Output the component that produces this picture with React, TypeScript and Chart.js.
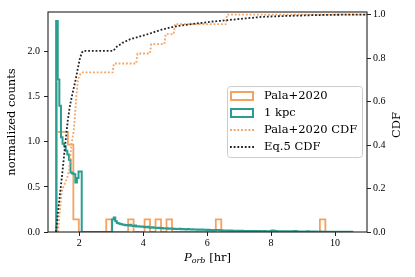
import React, { useEffect, useRef } from 'react';
import { Chart, registerables } from 'chart.js';

Chart.register(...registerables);

// ---------- data ----------
// Pala+2020 histogram (density), uniform bins
const palaBinStart = 1.299;
const palaBinWidth = 0.1714;
const palaHeights = [
  1.67, 1.11, 1.11, 0.97, 0.14, // 1.30 - 2.16
  0, 0, 0, 0, 0,                // 2.16 - 3.01
  0.14, 0, 0, 0,                // 3.01 - 3.70
  0.14, 0, 0,                   // 3.70 - 4.21
  0.14, 0,                      // 4.21 - 4.56
  0.14, 0,                      // 4.56 - 4.90
  0.14, 0, 0, 0, 0, 0, 0, 0, 0, // 4.90 - 6.44
  0.14, 0, 0, 0, 0, 0, 0, 0, 0, 0, 0, 0, 0, 0, 0, 0, 0, 0, 0, // 6.44 - 9.70
  0.14,                         // 9.70 - 9.87
];

// 1 kpc simulated histogram (density), uniform bins
const kpcBinStart = 1.275;
const kpcBinWidth = 0.05;
const kpcHeights = [
  2.34, 2.34, 1.69, 1.40, 1.05, 0.98, 0.95, 0.90, 0.86, 0.80, 0.66, 0.65, 0.64, 0.55, 0.60, 0.67, 0.67,
  0, 0, 0, 0, 0, 0, 0, 0, 0, 0, 0, 0, 0, 0, 0, 0, 0, 0, 0,
  0.14, 0.16, 0.12, 0.10, 0.095, 0.088, 0.082, 0.080, 0.076, 0.078,
  0.072, 0.080, 0.070, 0.066, 0.072, 0.062, 0.064, 0.060, 0.058, 0.062,
  0.055, 0.052, 0.058, 0.050, 0.048, 0.052, 0.046, 0.048, 0.044, 0.046,
  0.042, 0.044, 0.040, 0.038, 0.042, 0.036, 0.038, 0.040, 0.034, 0.036,
  0.034, 0.032, 0.035, 0.030, 0.033, 0.031, 0.029, 0.032, 0.030, 0.028,
  0.030, 0.027, 0.029, 0.026, 0.028, 0.025, 0.027, 0.024, 0.026, 0.023,
  0.024, 0.022, 0.023, 0.020, 0.022, 0.019, 0.021, 0.018, 0.020, 0.017,
  0.018, 0.016, 0.017, 0.015, 0.016, 0.014, 0.015, 0.013, 0.014, 0.013,
  0.012, 0.013, 0.011, 0.012, 0.010, 0.011, 0.010, 0.011, 0.009, 0.010,
  0.010, 0.009, 0.010, 0.008, 0.009, 0.010, 0.008, 0.009, 0.008, 0.012,
  0.016, 0.014, 0.010, 0.008, 0.009, 0.007, 0.008, 0.007, 0.008, 0.006,
  0.007, 0.006, 0.007, 0.006, 0.010, 0.007, 0.006, 0.005, 0.006, 0.005,
  0.006, 0.005, 0.008, 0.005, 0.004, 0.005, 0.004, 0.005, 0.004, 0.004,
  0.005, 0.004, 0.004, 0.003, 0.004, 0.003, 0.004, 0.003, 0.003, 0.003,
  0.003, 0.002, 0.003, 0.002, 0.002, 0.003, 0.002, 0.002, 0.002, 0.002,
];

// Pala+2020 CDF
const palaCdfPeriod = [1.33, 1.40, 1.45, 1.50, 1.55, 1.62, 1.68, 1.72, 1.76, 1.83, 1.87, 1.91, 1.95, 2.00, 2.07,
  3.04, 3.08, 3.78, 3.82, 4.21, 4.25, 4.66, 4.70, 4.95, 4.99, 6.58, 6.62, 11.0];
const palaCdfValue = [0, 0.11, 0.185, 0.208, 0.224, 0.25, 0.285, 0.35, 0.41, 0.47, 0.55, 0.63, 0.69, 0.72, 0.734,
  0.734, 0.775, 0.775, 0.821, 0.821, 0.864, 0.864, 0.91, 0.91, 0.956, 0.956, 1.0, 1.0];

// Eq.5 CDF
const eq5Period = [1.27, 1.36, 1.46, 1.55, 1.64, 1.71, 1.79, 1.87, 1.95, 2.02, 2.08, 2.12, 3.06, 3.17, 3.35, 3.58,
  3.90, 4.21, 4.55, 4.94, 5.30, 5.67, 6.10, 6.60, 7.15, 7.75, 8.50, 9.20, 9.83, 10.5, 11.0];
const eq5Cdf = [0, 0.13, 0.26, 0.39, 0.515, 0.584, 0.64, 0.69, 0.75, 0.80, 0.825, 0.833, 0.833, 0.852, 0.87, 0.886,
  0.90, 0.913, 0.93, 0.944, 0.952, 0.959, 0.967, 0.974, 0.982, 0.99, 0.994, 0.997, 0.999, 1.0, 1.0];

const xTicks = [2, 4, 6, 8, 10];
const countTicks = [0, 0.5, 1.0, 1.5, 2.0];
const cdfTicks = [0, 0.2, 0.4, 0.6, 0.8, 1.0];

const labels = ['Pala+2020', '1 kpc', 'Pala+2020 CDF', 'Eq.5 CDF'];

// ---------- styles ----------
const ORANGE = '#f4a261';
const TEAL = '#2a9d8f';
const BLACK = '#222222';
const DOTS = [1.8, 1.9];
const SERIF = '"DejaVu Serif", serif';
const TICKFONT = '"Liberation Serif", serif';

function histPoints(start: number, width: number, heights: number[]) {
  const pts: { x: number; y: number }[] = [{ x: start, y: 0 }];
  heights.forEach((h, i) => pts.push({ x: start + i * width, y: h }));
  pts.push({ x: start + heights.length * width, y: 0 });
  return pts;
}

function zipPoints(xs: number[], ys: number[]) {
  return xs.map((x, i) => ({ x, y: ys[i] }));
}

const overlay = {
  id: 'overlay',
  afterDatasetsDraw(chart: any) {
    const { ctx, chartArea: ca } = chart;
    ctx.save();
    ctx.strokeStyle = '#222';
    ctx.lineWidth = 1.1;
    ctx.strokeRect(ca.left, ca.top, ca.right - ca.left, ca.bottom - ca.top);
    ctx.restore();
  },
  afterDraw(chart: any) {
    const { ctx, chartArea: ca } = chart;
    ctx.save();
    ctx.fillStyle = '#000';
    // y titles
    ctx.font = `11.5px ${SERIF}`;
    ctx.textAlign = 'center';
    ctx.textBaseline = 'middle';
    ctx.save();
    ctx.translate(12, (ca.top + ca.bottom) / 2);
    ctx.rotate(-Math.PI / 2);
    ctx.fillText('normalized counts', 0, 0);
    ctx.restore();
    ctx.save();
    ctx.translate(397, (ca.top + ca.bottom) / 2 + 3);
    ctx.rotate(-Math.PI / 2);
    ctx.fillText('CDF', 0, 0);
    ctx.restore();

    // x title: P_orb [hr]
    ctx.textAlign = 'left';
    ctx.textBaseline = 'alphabetic';
    const fMain = `italic 11.5px ${SERIF}`;
    const fSub = `italic 8px ${SERIF}`;
    const fReg = `11.5px ${SERIF}`;
    ctx.font = fMain; const wP = ctx.measureText('P').width;
    ctx.font = fSub; const wS = ctx.measureText('orb').width;
    ctx.font = fReg; const wR = ctx.measureText(' [hr]').width;
    const total = wP + wS + wR;
    let x0 = (ca.left + ca.right) / 2 - total / 2;
    const base = 261;
    ctx.font = fMain; ctx.fillText('P', x0, base); x0 += wP;
    ctx.font = fSub; ctx.fillText('orb', x0, base + 2); x0 += wS;
    ctx.font = fReg; ctx.fillText(' [hr]', x0, base);

    // legend
    const lx = 227, ly = 86, lw = 135, lh = 71;
    ctx.beginPath();
    ctx.roundRect(lx + 0.5, ly + 0.5, lw, lh, 3);
    ctx.fillStyle = 'rgba(255,255,255,0.8)';
    ctx.fill();
    ctx.strokeStyle = '#cccccc';
    ctx.lineWidth = 1;
    ctx.stroke();
    const rows = [96, 113, 130, 147];
    const hx = 230, hw = 24;
    // hist handles
    ctx.lineWidth = 2;
    ctx.strokeStyle = ORANGE;
    ctx.strokeRect(hx + 1, rows[0] - 4, hw - 2, 8);
    ctx.strokeStyle = TEAL;
    ctx.strokeRect(hx + 1, rows[1] - 4, hw - 2, 8);
    // line handles
    ctx.lineWidth = 1.8;
    ctx.setLineDash(DOTS);
    ctx.strokeStyle = ORANGE;
    ctx.beginPath(); ctx.moveTo(hx, rows[2]); ctx.lineTo(hx + hw, rows[2]); ctx.stroke();
    ctx.strokeStyle = BLACK;
    ctx.beginPath(); ctx.moveTo(hx, rows[3]); ctx.lineTo(hx + hw, rows[3]); ctx.stroke();
    ctx.setLineDash([]);
    ctx.fillStyle = '#000';
    ctx.font = `11.5px ${SERIF}`;
    ctx.textBaseline = 'middle';
    labels.forEach((t, i) => ctx.fillText(t, 264, rows[i] + 0.5));
    ctx.restore();
  },
};

export default function App() {
  const ref = useRef<HTMLCanvasElement | null>(null);
  useEffect(() => {
    if (!ref.current) return;
    const tickCfg = {
      font: { family: TICKFONT, size: 10 },
      color: '#000',
    };
    const gridCfg = {
      display: true,
      drawOnChartArea: false,
      drawTicks: true,
      tickLength: 4,
      tickColor: '#222',
      tickWidth: 1,
    };
    const chart = new Chart(ref.current, {
      type: 'line',
      data: {
        datasets: [
          {
            label: labels[3],
            data: zipPoints(eq5Period, eq5Cdf),
            yAxisID: 'y2',
            borderColor: BLACK,
            borderWidth: 1.8,
            borderDash: DOTS,
            pointRadius: 0,
            fill: false,
            order: 0,
          },
          {
            label: labels[2],
            data: zipPoints(palaCdfPeriod, palaCdfValue),
            yAxisID: 'y2',
            borderColor: ORANGE,
            borderWidth: 1.8,
            borderDash: DOTS,
            pointRadius: 0,
            fill: false,
            order: 1,
          },
          {
            label: labels[1],
            data: histPoints(kpcBinStart, kpcBinWidth, kpcHeights),
            yAxisID: 'y',
            borderColor: TEAL,
            borderWidth: 2,
            stepped: 'after',
            pointRadius: 0,
            fill: false,
            order: 2,
          },
          {
            label: labels[0],
            data: histPoints(palaBinStart, palaBinWidth, palaHeights),
            yAxisID: 'y',
            borderColor: ORANGE,
            borderWidth: 1.8,
            stepped: 'after',
            pointRadius: 0,
            fill: false,
            order: 3,
          },
        ],
      } as any,
      options: {
        animation: false,
        responsive: false,
        devicePixelRatio: 1,
        events: [],
        layout: { padding: { top: 12, left: 0, right: 0, bottom: 0 } },
        plugins: { legend: { display: false }, tooltip: { enabled: false } },
        scales: {
          x: {
            type: 'linear',
            min: 1.02,
            max: 11.0,
            z: 1,
            border: { display: false },
            grid: gridCfg,
            ticks: { ...tickCfg, padding: 1, callback: (v: any) => String(v) },
            afterBuildTicks: (s: any) => { s.ticks = xTicks.map((v) => ({ value: v })); },
            afterFit: (s: any) => { s.height = 45; },
          },
          y: {
            type: 'linear',
            position: 'left',
            min: 0,
            max: 2.44,
            z: 1,
            border: { display: false },
            grid: gridCfg,
            ticks: { ...tickCfg, padding: 4, callback: (v: any) => Number(v).toFixed(1) },
            afterBuildTicks: (s: any) => { s.ticks = countTicks.map((v) => ({ value: v })); },
            afterFit: (s: any) => { s.width = 48; },
          },
          y2: {
            type: 'linear',
            position: 'right',
            min: 0,
            max: 1.012,
            z: 1,
            border: { display: false },
            grid: gridCfg,
            ticks: { ...tickCfg, padding: 2, callback: (v: any) => Number(v).toFixed(1) },
            afterBuildTicks: (s: any) => { s.ticks = cdfTicks.map((v) => ({ value: v })); },
            afterFit: (s: any) => { s.width = 48; },
          },
        },
      } as any,
      plugins: [overlay],
    });
    return () => chart.destroy();
  }, []);
  return (
    <div style={{ position: 'fixed', left: 0, top: 0, width: 415, height: 277, background: '#fff' }}>
      <canvas ref={ref} width={415} height={277} style={{ width: 415, height: 277, display: 'block' }} />
    </div>
  );
}
